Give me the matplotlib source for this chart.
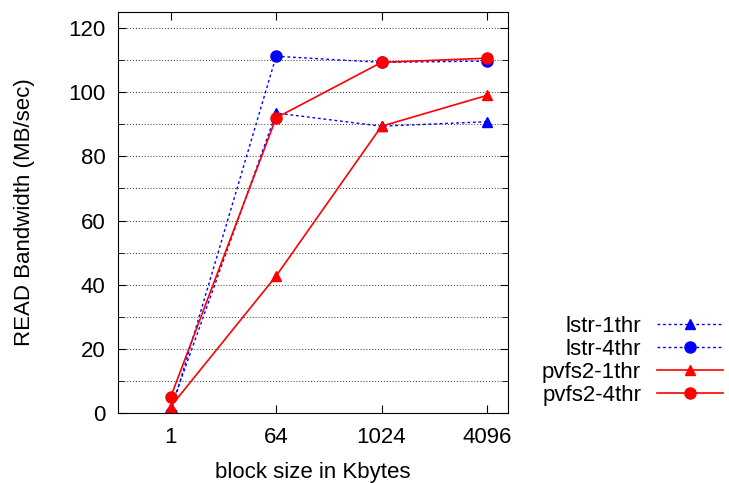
import matplotlib.pyplot as plt
from matplotlib.ticker import MultipleLocator

plt.rcParams['font.family'] = ['Liberation Sans', 'DejaVu Sans']

# data
block_sizes = ['1', '64', '1024', '4096']
lstr_1thr = [1.5, 93.5, 89.4, 90.8]
lstr_4thr = [0.0, 111.2, 109.3, 109.7]
pvfs2_1thr = [2.0, 42.7, 89.4, 99.0]
pvfs2_4thr = [5.0, 92.0, 109.3, 110.6]

x = range(len(block_sizes))

fig = plt.figure(figsize=(7.29, 4.83), dpi=100)
ax = fig.add_axes([118/729, 1-413/483, (508-118)/729, (413-12)/483])

ax.plot(x, lstr_1thr, color='blue', ls=(0, (2, 2)), lw=1, marker='^', ms=7, label='lstr-1thr')
ax.plot(x, lstr_4thr, color='blue', ls=(0, (2, 2)), lw=1, marker='o', ms=8, label='lstr-4thr')
ax.plot(x, pvfs2_1thr, color='red', lw=1.2, marker='^', ms=7, label='pvfs2-1thr')
ax.plot(x, pvfs2_4thr, color='red', lw=1.2, marker='o', ms=8, label='pvfs2-4thr')

ax.set_xlim(-0.5, 3.2)
ax.set_ylim(0, 125)
ax.set_xticks(list(x))
ax.set_xticklabels(block_sizes)
ax.yaxis.set_major_locator(MultipleLocator(20))
ax.yaxis.set_minor_locator(MultipleLocator(10))
ax.grid(axis='y', which='both', ls=(0, (1, 2)), color='black', lw=0.7, alpha=0.8)
ax.tick_params(which='both', direction='in', top=True, right=True, labelsize=16)
ax.tick_params(which='major', length=6)
ax.tick_params(which='minor', length=4)
ax.tick_params(axis='x', pad=10)
ax.tick_params(axis='y', pad=9)

ax.set_xlabel('block size in Kbytes', fontsize=16, labelpad=10)
ax.set_ylabel('READ Bandwidth (MB/sec)', fontsize=16, labelpad=24)

ax.legend(loc='center left', bbox_to_anchor=(1.036, 0.13), frameon=False, markerfirst=False,
          fontsize=16, handlelength=3.0, labelspacing=0.08, handletextpad=0.7)

fig.savefig('out.png', dpi=100)
